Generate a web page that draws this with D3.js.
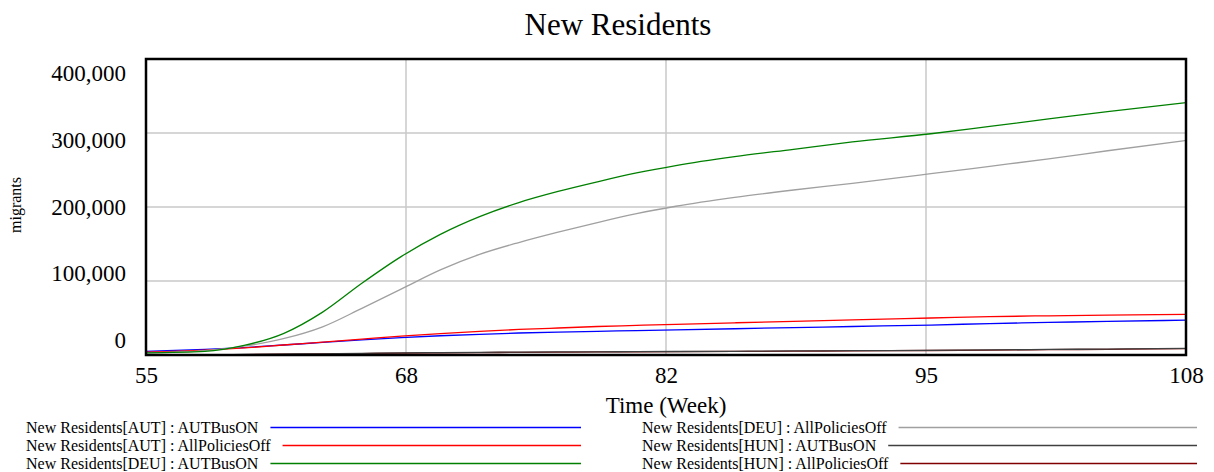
<!DOCTYPE html>
<html>
<head>
<meta charset="utf-8">
<script src="https://cdn.jsdelivr.net/npm/d3@7"></script>
<style>
  body { margin: 0; background: #fff; }
  svg text { font-family: "Liberation Serif", "Times New Roman", serif; fill: #000; }
</style>
</head>
<body>
<svg id="chart" width="1214" height="472"></svg>
<script>
const weeks = [55, 58, 60, 62, 64, 66, 68, 70, 72, 74, 76, 78, 80, 82, 85, 88, 91, 95, 98, 101, 104, 108]

const autBusOn     = [5000, 7500, 10000, 13500, 17000, 20500, 23500, 26000, 28000, 29700, 31000, 32000, 33000, 34000, 35500, 37000, 38500, 40500, 42500, 44000, 45500, 47000]
const autPolOff    = [4000, 6500, 9500, 13500, 17500, 21500, 25500, 29000, 32000, 34500, 36500, 38500, 40000, 41500, 43500, 45500, 47500, 50000, 51800, 53000, 54000, 55000]
const deuBusOn     = [3000, 5000, 13000, 29000, 58000, 97000, 133000, 163000, 187000, 206000, 221000, 234000, 246000, 256000, 268000, 278000, 288000, 299000, 309000, 319000, 329000, 341000]
const deuPolOff    = [3000, 6000, 12000, 22000, 38000, 63000, 89000, 115000, 136000, 152000, 166000, 179000, 191000, 201000, 213000, 223000, 232000, 245000, 255000, 265000, 276000, 290000]
const hunBusOn     = [0, 0, 800, 1200, 1600, 2200, 3000, 3300, 3600, 3900, 4100, 4300, 4500, 4700, 5000, 5500, 5800, 6300, 6800, 7500, 8000, 9000]
const hunPolOff    = [0, 0, 600, 1000, 1400, 1900, 2600, 3000, 3300, 3500, 3800, 4100, 4300, 4500, 4800, 5200, 5600, 6100, 6500, 7200, 7700, 8700]

const seriesNames = [
    'New Residents[AUT] : AUTBusON',
    'New Residents[AUT] : AllPoliciesOff',
    'New Residents[DEU] : AUTBusON',
    'New Residents[DEU] : AllPoliciesOff',
    'New Residents[HUN] : AUTBusON',
    'New Residents[HUN] : AllPoliciesOff'
]
const seriesValues = [autBusOn, autPolOff, deuBusOn, deuPolOff, hunBusOn, hunPolOff]
const colors = ['#0000ff', '#ff0000', '#008000', '#a0a0a0', '#404040', '#800000']

const yTicks = [0, 100000, 200000, 300000, 400000]
const xDomain = [55, 108]

const plotLeft = 146, plotRight = 1186, plotTop = 59, plotBottom = 355

const svg = d3.select('#chart')

const x = d3.scaleLinear().domain(xDomain).range([plotLeft, plotRight])
const y = d3.scaleLinear().domain([0, 400000]).range([plotBottom, plotTop])
// the tick labels sit on their own, slightly tighter spacing
const yLabel = d3.scaleLinear().domain([0, 400000]).range([348, 81])

const xTicks = d3.range(5).map(i => xDomain[0] + i * (xDomain[1] - xDomain[0]) / 4)

svg.append('text')
    .attr('x', 618).attr('y', 35)
    .attr('text-anchor', 'middle')
    .attr('font-size', 31)
    .text('New Residents')

// grid
svg.append('g').selectAll('line')
    .data(xTicks.slice(1, -1))
    .enter().append('line')
    .attr('x1', d => x(d)).attr('x2', d => x(d))
    .attr('y1', plotTop).attr('y2', plotBottom)
    .attr('stroke', '#c8c8c8').attr('stroke-width', 1.5)

svg.append('g').selectAll('line')
    .data(yTicks.slice(1, -1))
    .enter().append('line')
    .attr('x1', plotLeft).attr('x2', plotRight)
    .attr('y1', d => y(d)).attr('y2', d => y(d))
    .attr('stroke', '#c8c8c8').attr('stroke-width', 1.5)

svg.append('clipPath').attr('id', 'clip')
    .append('rect')
    .attr('x', plotLeft).attr('y', plotTop)
    .attr('width', plotRight - plotLeft).attr('height', plotBottom - plotTop)

const line = d3.line()
    .x(d => x(d[0]))
    .y(d => y(d[1]))
    .curve(d3.curveMonotoneX)

// draw HUN dark red before the dark grey one so it peeks out underneath
const order = [5, 0, 1, 3, 2, 4]
svg.append('g').attr('clip-path', 'url(#clip)')
    .selectAll('path')
    .data(order)
    .enter().append('path')
    .attr('d', i => line(weeks.map((w, k) => [w, seriesValues[i][k]])))
    .attr('fill', 'none')
    .attr('stroke', i => colors[i])
    .attr('stroke-width', 1.3)

// frame
svg.append('rect')
    .attr('x', plotLeft).attr('y', plotTop)
    .attr('width', plotRight - plotLeft).attr('height', plotBottom - plotTop)
    .attr('fill', 'none').attr('stroke', '#000').attr('stroke-width', 2.5)

// y labels
svg.append('g').selectAll('text')
    .data(yTicks)
    .enter().append('text')
    .attr('x', 126).attr('y', d => yLabel(d))
    .attr('text-anchor', 'end')
    .attr('font-size', 23)
    .text(d => d3.format(',')(d))

// x axis
const xAxis = svg.append('g')
    .attr('transform', 'translate(0,' + plotBottom + ')')
    .call(d3.axisBottom(x).tickValues(xTicks).tickFormat(d => Math.round(d)).tickSize(0).tickPadding(12))
xAxis.select('.domain').remove()
xAxis.selectAll('text')
    .attr('font-size', 23)
    .attr('font-family', '"Liberation Serif", "Times New Roman", serif')
    .attr('fill', '#000')
    .attr('dy', null)
    .attr('y', 28)

svg.append('text')
    .attr('x', (plotLeft + plotRight) / 2).attr('y', 413)
    .attr('text-anchor', 'middle')
    .attr('font-size', 23)
    .text('Time (Week)')

svg.append('text')
    .attr('transform', 'translate(21,205) rotate(-90)')
    .attr('text-anchor', 'middle')
    .attr('font-size', 16)
    .text('migrants')

// legend, two columns of three
const legend = svg.append('g')
seriesNames.forEach((name, i) => {
    const col = Math.floor(i / 3), row = i % 3
    const tx = col === 0 ? 26 : 642
    const lineEnd = col === 0 ? 581 : 1197
    const baseY = 433 + row * 18
    const t = legend.append('text')
        .attr('x', tx).attr('y', baseY)
        .attr('font-size', 16)
        .text(name)
    const w = t.node().getComputedTextLength()
    legend.append('line')
        .attr('x1', tx + w + 12).attr('x2', lineEnd)
        .attr('y1', baseY - 5.5).attr('y2', baseY - 5.5)
        .attr('stroke', colors[i]).attr('stroke-width', 1.3)
})
</script>
</body>
</html>
